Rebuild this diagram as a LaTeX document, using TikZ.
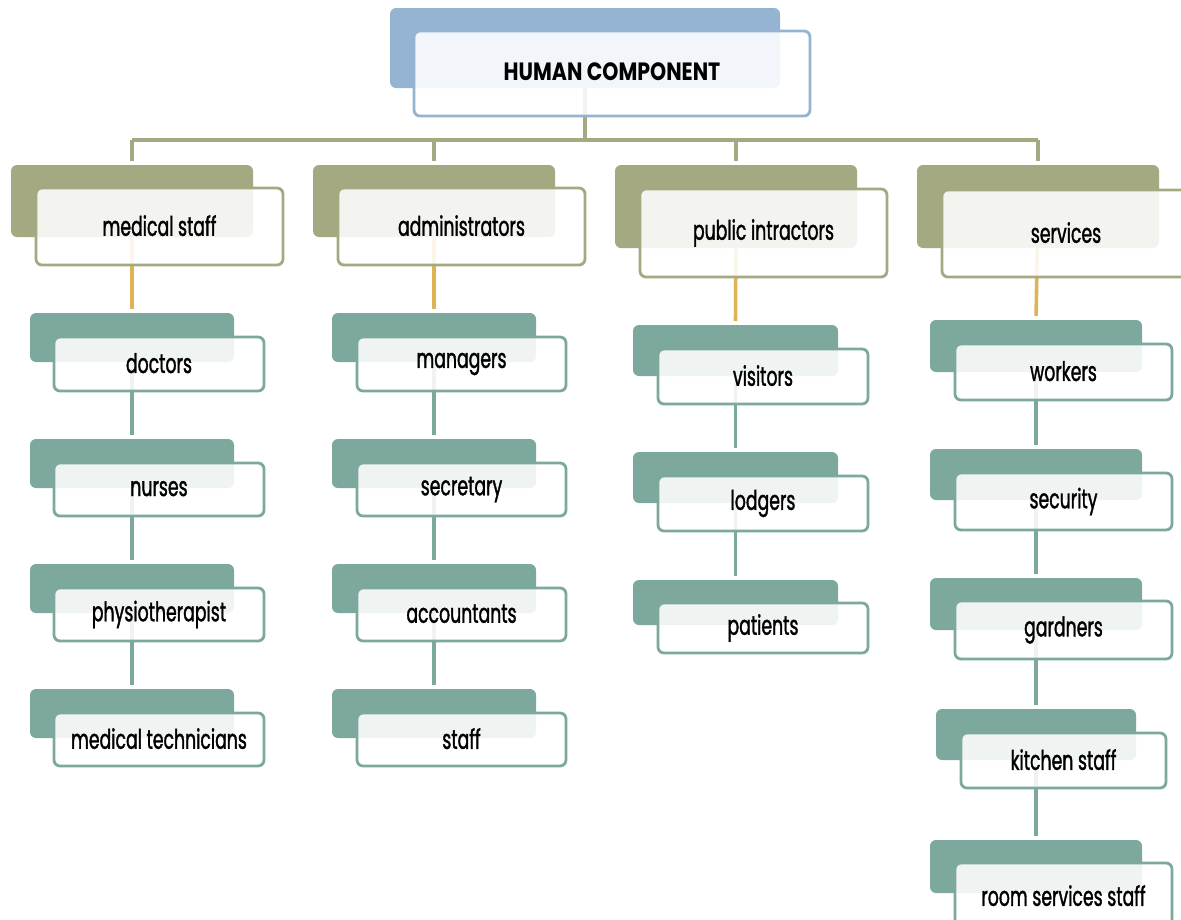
\documentclass[tikz,border=0pt]{standalone}
\usepackage{fontspec}
\setmainfont{Poppins}[FakeStretch=0.64, FakeBold=1.3]
\newfontfamily\headfont{Poppins}[FakeStretch=0.82]
\pgfdeclarelayer{background}
\pgfsetlayers{background,main}
\definecolor{cblue}{HTML}{95B4D1}
\definecolor{colive}{HTML}{A4A981}
\definecolor{cteal}{HTML}{7CA89D}
\definecolor{cyellow}{HTML}{DFB457}
\tikzset{
  backbox/.style={rounded corners=6pt, fill=#1, draw=none, inner sep=0pt, outer sep=0pt},
  frontbox/.style={rounded corners=6pt, draw=#1, line width=2.8pt, fill=white,
    fill opacity=0.88, text opacity=1, inner sep=0pt, outer sep=0pt,
    font=\fontsize{27}{29}\selectfont},
  link/.style={line width=3.6pt, draw=#1},
}
% \backb{name}{x1}{y1}{x2}{y2}{colour}: filled card behind
\newcommand\backb[6]{%
  \node[backbox=#6, minimum width={(#4-#2)*1pt}, minimum height={(#5-#3)*1pt}]
    (#1-b) at ({(#2+#4)/2},{(#3+#5)/2}) {};}
% \frontb{name}{x1}{y1}{x2}{y2}{colour}{label}: outlined card in front
\newcommand\frontb[7]{%
  \node[frontbox=#6, minimum width={(#4-#2)*1pt}, minimum height={(#5-#3)*1pt}]
    (#1) at ({(#2+#4)/2},{(#3+#5)/2}) {\raisebox{2pt}{#7}};}
\begin{document}
\begin{tikzpicture}[x=1pt,y=-1pt]
\useasboundingbox (0,0) rectangle (1181,919);
\clip (0,0) rectangle (1181,919);

% root
\backb{root}{390}{8}{780}{88}{cblue}
\frontb{root}{414}{31}{810}{116}{cblue}{}
\node[font={\headfont\bfseries\fontsize{25}{27}\selectfont}] (roottxt) at (612,72) {HUMAN COMPONENT};

% second level
\backb{med}{11}{165}{253}{237}{colive}
\frontb{med}{36}{188}{283}{265}{colive}{medical staff}
\backb{adm}{313}{165}{555}{237}{colive}
\frontb{adm}{338}{188}{585}{265}{colive}{administrators}
\backb{pub}{615}{165}{857}{248}{colive}
\frontb{pub}{640}{189}{887}{277}{colive}{public intractors}
\backb{svc}{917}{165}{1159}{248}{colive}
\frontb{svc}{942}{190}{1190}{277}{colive}{services}

% medical staff
\backb{doc}{30}{313}{234}{362}{cteal}
\frontb{doc}{54}{337}{264}{391}{cteal}{doctors}
\backb{nur}{30}{439}{234}{488}{cteal}
\frontb{nur}{54}{463}{264}{516}{cteal}{nurses}
\backb{phy}{30}{564}{234}{613}{cteal}
\frontb{phy}{54}{588}{264}{641}{cteal}{physiotherapist}
\backb{tec}{30}{689}{234}{738}{cteal}
\frontb{tec}{54}{713}{264}{766}{cteal}{medical technicians}

% administrators
\backb{man}{332}{313}{536}{362}{cteal}
\frontb{man}{357}{337}{566}{391}{cteal}{managers}
\backb{sec}{332}{439}{536}{488}{cteal}
\frontb{sec}{357}{463}{566}{516}{cteal}{secretary}
\backb{acc}{332}{564}{536}{613}{cteal}
\frontb{acc}{357}{588}{566}{641}{cteal}{accountants}
\backb{stf}{332}{689}{536}{738}{cteal}
\frontb{stf}{357}{713}{566}{766}{cteal}{staff}

% public intractors
\backb{vis}{633}{325}{838}{376}{cteal}
\frontb{vis}{658}{349}{868}{404}{cteal}{visitors}
\backb{lod}{633}{452}{838}{503}{cteal}
\frontb{lod}{658}{476}{868}{531}{cteal}{lodgers}
\backb{pat}{633}{580}{838}{625}{cteal}
\frontb{pat}{658}{603}{868}{653}{cteal}{patients}

% services
\backb{wor}{930}{320}{1142}{372}{cteal}
\frontb{wor}{955}{344}{1172}{400}{cteal}{workers}
\backb{secu}{930}{449}{1142}{500}{cteal}
\frontb{secu}{955}{473}{1172}{530}{cteal}{security}
\backb{gar}{930}{578}{1142}{630}{cteal}
\frontb{gar}{955}{601}{1172}{659}{cteal}{gardners}
\backb{kit}{936}{709}{1136}{760}{cteal}
\frontb{kit}{961}{733}{1166}{788}{cteal}{kitchen staff}
\backb{room}{930}{840}{1142}{893}{cteal}
\frontb{room}{955}{863}{1172}{930}{cteal}{room services staff}

\coordinate (bus) at (0,140);
\begin{pgfonlayer}{background}
  % bus from the root to the four groups
  \draw[link=colive] (root-b.center) -- (root-b.center |- bus);
  \draw[link=colive] (med-b.center |- bus) -- (svc-b.center |- bus);
  \foreach \g in {med,adm,pub,svc}
    \draw[link=colive, shorten >=4pt] (\g-b.center |- bus) -- (\g-b.north);
  % group to first member
  \foreach \g/\m in {med/doc,adm/man,pub/vis,svc/wor}
    \draw[link=cyellow, shorten >=4pt] (\g-b.center) -- (\m-b.north);
  % chains inside each group
  \foreach \a/\b in {doc/nur,nur/phy,phy/tec,man/sec,sec/acc,acc/stf,
                     vis/lod,lod/pat,wor/secu,secu/gar,gar/kit,kit/room}
    \draw[link=cteal, shorten >=4pt] (\a-b.center) -- (\b-b.north);
\end{pgfonlayer}
\end{tikzpicture}
\end{document}
